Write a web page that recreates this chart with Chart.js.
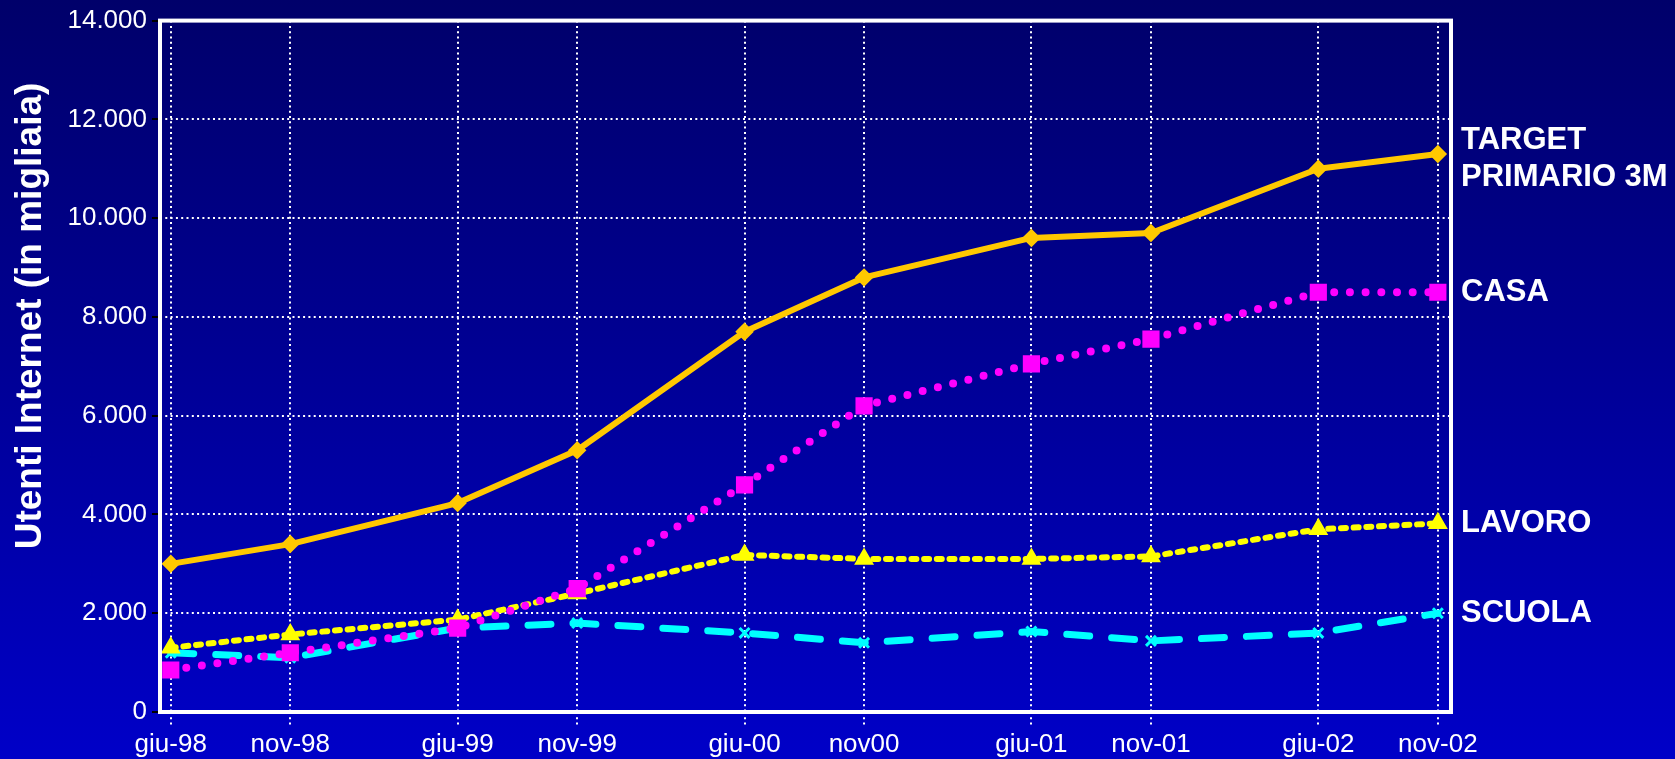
<!DOCTYPE html>
<html>
<head>
<meta charset="utf-8">
<script src="https://cdn.jsdelivr.net/npm/chart.js@4"></script>
<style>
  html, body { margin: 0; padding: 0; }
  body {
    width: 1675px; height: 759px; overflow: hidden;
    background: linear-gradient(to bottom, #00006a 0%, #000092 45%, #0000c8 100%);
  }
  canvas { display: block; }
</style>
</head>
<body>
<canvas id="chart" width="1675" height="759"></canvas>
<script>
// months counted from giu-98, so the x axis keeps the real time spacing
var months = [0, 5, 12, 17, 24, 29, 36, 41, 48, 53];
var periodLabels = ['giu-98', 'nov-98', 'giu-99', 'nov-99', 'giu-00', 'nov00', 'giu-01', 'nov-01', 'giu-02', 'nov-02'];

var target = [3000, 3400, 4230, 5300, 7700, 8800, 9600, 9700, 11000, 11300];
var casa   = [850, 1200, 1700, 2500, 4600, 6200, 7050, 7550, 8500, 8500];
var lavoro = [1300, 1570, 1870, 2400, 3180, 3100, 3100, 3150, 3700, 3820];
var scuola = [1200, 1100, 1700, 1800, 1600, 1400, 1630, 1440, 1600, 2000];

var yTicks = [0, 2000, 4000, 6000, 8000, 10000, 12000, 14000];
var sideLabels = [['TARGET', 'PRIMARIO 3M'], ['CASA'], ['LAVORO'], ['SCUOLA']];
var yTitle = 'Utenti Internet (in migliaia)';

function toPoints(values) {
    return values.map(function(v, i) { return { x: months[i], y: v }; });
}

// 14000 -> "14.000"
function formatThousands(v) {
    return String(v).replace(/\B(?=(\d{3})+(?!\d))/g, '.');
}

// white frame around the plot area
var frame = {
    id: 'frame',
    afterDatasetsDraw: function(chart) {
        var a = chart.chartArea, ctx = chart.ctx;
        ctx.save();
        ctx.strokeStyle = '#ffffff';
        ctx.lineWidth = 4;
        ctx.strokeRect(a.left, a.top, a.right - a.left, a.bottom - a.top);
        ctx.restore();
    }
};

// series names on the right, next to the last point, plus the y title
var sideText = {
    id: 'sideText',
    afterDraw: function(chart) {
        var ctx = chart.ctx, y = chart.scales.y;
        ctx.save();
        ctx.fillStyle = '#ffffff';
        ctx.font = 'bold 31px "Liberation Sans", Arial, sans-serif';
        ctx.textAlign = 'left';
        ctx.textBaseline = 'middle';
        chart.data.datasets.forEach(function(ds, i) {
            var lines = sideLabels[i];
            var last = ds.data[ds.data.length - 1].y;
            var py = y.getPixelForValue(last) + (lines.length > 1 ? 5 : 0);
            var lh = 37;
            lines.forEach(function(t, j) {
                ctx.fillText(t, 1461, py + (j - (lines.length - 1) / 2) * lh);
            });
        });

        ctx.translate(31, 316);
        ctx.rotate(-Math.PI / 2);
        ctx.textAlign = 'center';
        ctx.font = 'bold 37px "Liberation Sans", Arial, sans-serif';
        ctx.fillText(yTitle, 0, 0);
        ctx.restore();
    }
};

var ctx = document.getElementById('chart').getContext('2d');

var chart = new Chart(ctx, {
    type: 'line',
    data: {
        datasets: [{
            label: 'TARGET PRIMARIO 3M',
            data: toPoints(target),
            borderColor: '#ffc800',
            backgroundColor: '#ffc800',
            borderWidth: 6,
            pointStyle: 'rectRot',
            pointRadius: 5,
            borderJoinStyle: 'round'
        }, {
            label: 'CASA',
            data: toPoints(casa),
            borderColor: '#ff00ff',
            backgroundColor: '#ff00ff',
            borderWidth: 8,
            borderDash: [0, 15.7],
            borderCapStyle: 'round',
            pointStyle: 'rect',
            pointRadius: 6.5
        }, {
            label: 'LAVORO',
            data: toPoints(lavoro),
            borderColor: '#ffff00',
            backgroundColor: '#ffff00',
            borderWidth: 6,
            borderDash: [5, 7.7],
            borderCapStyle: 'round',
            pointStyle: 'triangle',
            pointRadius: 5.5
        }, {
            label: 'SCUOLA',
            data: toPoints(scuola),
            borderColor: '#00ffff',
            backgroundColor: '#00ffff',
            borderWidth: 7,
            borderDash: [23, 22],
            borderCapStyle: 'round',
            pointStyle: 'crossRot',
            pointRadius: 7,
            pointBorderWidth: 3
        }]
    },
    options: {
        responsive: false,
        animation: false,
        devicePixelRatio: 1,
        layout: { padding: { top: 16, right: 224, left: 0, bottom: 0 } },
        plugins: {
            legend: { display: false },
            tooltip: { enabled: false }
        },
        elements: { line: { tension: 0, fill: false } },
        scales: {
            x: {
                type: 'linear',
                min: -0.45,
                max: 53.55,
                afterBuildTicks: function(scale) {
                    scale.ticks = months.map(function(m) { return { value: m }; });
                },
                afterFit: function(scale) { scale.height = 47; },
                ticks: {
                    color: '#ffffff',
                    font: { family: '"Liberation Sans", Arial, sans-serif', size: 26 },
                    padding: 2,
                    maxRotation: 0,
                    autoSkip: false,
                    callback: function(value) {
                        var i = months.indexOf(value);
                        return i >= 0 ? periodLabels[i] : '';
                    }
                },
                grid: {
                    color: '#ffffff',
                    lineWidth: 2,
                    tickLength: 15,
                    tickColor: '#ffffff',
                    tickBorderDash: [2, 3.3]
                },
                border: { display: false, dash: [2, 3.3] }
            },
            y: {
                min: 0,
                max: 14000,
                afterBuildTicks: function(scale) {
                    scale.ticks = yTicks.map(function(v) { return { value: v }; });
                },
                afterFit: function(scale) { scale.width = 160; },
                ticks: {
                    color: '#ffffff',
                    font: { family: '"Liberation Sans", Arial, sans-serif', size: 26 },
                    padding: 5,
                    callback: function(value) { return formatThousands(value); }
                },
                grid: {
                    color: '#ffffff',
                    lineWidth: 2,
                    tickLength: 8,
                    tickColor: '#000000'
                },
                border: { display: false, dash: [2, 3.3] }
            }
        }
    },
    plugins: [frame, sideText]
});
</script>
</body>
</html>
